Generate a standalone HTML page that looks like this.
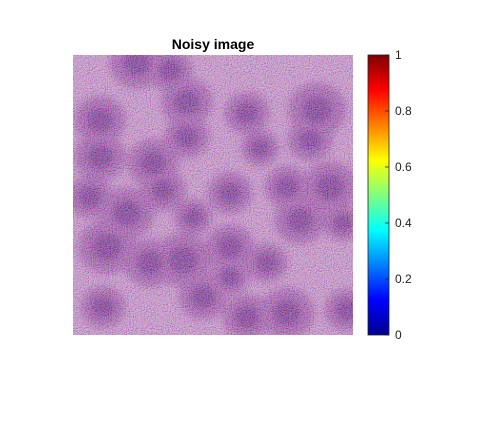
<!DOCTYPE html>
<html><head><meta charset="utf-8"><style>
body{margin:0;background:#fff;}
svg{display:block;font-family:"Liberation Sans",sans-serif;}
</style></head><body>
<svg width="488" height="431">
<defs>
<filter id="noise" x="0" y="0" width="100%" height="100%">
<feTurbulence type="fractalNoise" baseFrequency="0.95" numOctaves="1" seed="3" result="t"/>
<feColorMatrix in="t" type="matrix" values="2.4 0 0 0 -0.6  0 2.4 0 0 -0.8  0 0 2.4 0 -0.6  0 0 0 0 0.42"/>
</filter>
<filter id="blur"><feGaussianBlur stdDeviation="3"/></filter>
<filter id="blur2"><feGaussianBlur stdDeviation="4"/></filter>
<clipPath id="clip"><rect x="73" y="55" width="280" height="280"/></clipPath>
<linearGradient id="jet" x1="0" y1="1" x2="0" y2="0">
<stop offset="0" stop-color="#00008f"/><stop offset="0.125" stop-color="#0000ff"/>
<stop offset="0.375" stop-color="#00ffff"/><stop offset="0.625" stop-color="#ffff00"/>
<stop offset="0.875" stop-color="#ff0000"/><stop offset="1" stop-color="#800000"/>
</linearGradient>
</defs>
<text x="213" y="49" text-anchor="middle" font-size="14" font-weight="bold">Noisy image</text>
<g clip-path="url(#clip)">
<rect x="73" y="55" width="280" height="280" fill="#c69ccc"/>
<g id="bodies" filter="url(#blur2)"></g>
<g id="cells" filter="url(#blur)"></g>
<rect x="73" y="55" width="280" height="280" filter="url(#noise)"/>
</g>
<rect x="368" y="55" width="21" height="280" fill="url(#jet)" stroke="#222" stroke-width="0.8"/>
<g id="cbticks" font-size="12" fill="#222"></g>
</svg>
<script>
const cellX=[137,170,187,100,247,317,187,260,100,153,310,330,90,127,230,287,300,163,107,183,230,150,203,103,247,287,347,343,193,267,230];
const cellY=[63,70,102,120,113,110,137,148,157,163,140,187,197,213,193,187,220,190,247,260,247,263,297,307,317,313,310,223,217,263,277];
const cellR=[17,14,16,16,14,18,14,12,16,16,14,17,14,17,14,14,16,14,18,18,15,16,15,14,15,17,14,12,12,13,12];
const cbTicks=[0,0.2,0.4,0.6,0.8,1];
const cbLabels=["0","0.2","0.4","0.6","0.8","1"];
const ns="http://www.w3.org/2000/svg";
const gb=document.getElementById('bodies');
const g=document.getElementById('cells');
for(let i=0;i<cellX.length;i++){
  const b=document.createElementNS(ns,'ellipse');
  b.setAttribute('cx',cellX[i]);b.setAttribute('cy',cellY[i]);
  b.setAttribute('rx',cellR[i]*1.6);b.setAttribute('ry',cellR[i]*1.5);
  b.setAttribute('fill','#9a58a8');
  
  
  gb.appendChild(b);
  const e=document.createElementNS(ns,'ellipse');
  e.setAttribute('cx',cellX[i]);e.setAttribute('cy',cellY[i]);
  e.setAttribute('rx',cellR[i]*0.8);e.setAttribute('ry',cellR[i]*0.75);
  e.setAttribute('fill','#5a2080');e.setAttribute('opacity','0.7');
  
  
  g.appendChild(e);
}
const t=document.getElementById('cbticks');
const y=v=>335-v*280;
cbTicks.forEach((v,i)=>{
  const l=document.createElementNS(ns,'line');
  l.setAttribute('x1',385);l.setAttribute('x2',389);l.setAttribute('y1',y(v));l.setAttribute('y2',y(v));
  l.setAttribute('stroke','#222');l.setAttribute('stroke-width','0.8');
  
  
  t.appendChild(l);
  const tx=document.createElementNS(ns,'text');
  tx.setAttribute('x',395);tx.setAttribute('y',y(v)+4);tx.textContent=cbLabels[i];
  
  
  t.appendChild(tx);
});
</script>
</body></html>
